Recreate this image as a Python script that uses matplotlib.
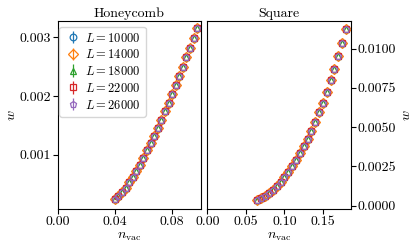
import numpy as np
import matplotlib
matplotlib.use("Agg")
import matplotlib.pyplot as plt

plt.rcParams["font.family"] = "serif"
plt.rcParams["font.serif"] = ["cmr10", "DejaVu Serif"]
plt.rcParams["mathtext.fontset"] = "cm"
plt.rcParams["axes.formatter.use_mathtext"] = True

# system sizes and markers
sizes = [10000, 14000, 18000, 22000, 26000]
markers = ["o", "D", "^", "s", "p"]

# honeycomb lattice: vacancy density vs w (all sizes collapse)
n_honey = [0.0400, 0.0425, 0.0450, 0.0475, 0.0500, 0.0525, 0.0550, 0.0575,
           0.0600, 0.0625, 0.0650, 0.0675, 0.0700, 0.0725, 0.0750, 0.0775,
           0.0800, 0.0825, 0.0850, 0.0875, 0.0900, 0.0925, 0.0950, 0.0975]
w_honey = [0.00025, 0.00030, 0.00037, 0.00044, 0.00054, 0.00063, 0.00073,
           0.00083, 0.00095, 0.00108, 0.00120, 0.00132, 0.00145, 0.00159,
           0.00174, 0.00188, 0.00203, 0.00218, 0.00234, 0.00250, 0.00266,
           0.00282, 0.00298, 0.00315]

# square lattice
n_square = [0.065, 0.070, 0.075, 0.080, 0.085, 0.090, 0.095, 0.100,
            0.105, 0.110, 0.115, 0.120, 0.125, 0.130, 0.135, 0.140,
            0.145, 0.150, 0.155, 0.160, 0.165, 0.170, 0.175, 0.180]
w_square = [0.00036, 0.00049, 0.00062, 0.00079, 0.00100, 0.00124, 0.00151,
            0.00181, 0.00215, 0.00251, 0.00291, 0.00334, 0.00378, 0.00427,
            0.00478, 0.00535, 0.00595, 0.00656, 0.00724, 0.00799, 0.00873,
            0.00952, 0.01036, 0.01125]

FS = 10

fig = plt.figure(figsize=(4.15, 2.49), dpi=100)
ax1 = fig.add_axes([0.139, 0.161, 0.3446, 0.755])
ax2 = fig.add_axes([0.4995, 0.161, 0.3455, 0.755])

for i, (L, m) in enumerate(zip(sizes, markers)):
    col = f"C{i}"
    ax1.errorbar(n_honey, w_honey, yerr=np.zeros(len(w_honey)), fmt=m,
                 color=col, mfc="none", ms=4.8, mew=0.9, elinewidth=0.9,
                 label=f"$L = {L}$")
    ax2.errorbar(n_square, w_square, yerr=np.zeros(len(w_square)), fmt=m,
                 color=col, mfc="none", ms=4.8, mew=0.9, elinewidth=0.9)

ax1.set_xlim(0, 0.1)
ax1.set_ylim(0.000082, 0.003277)
ax1.set_xticks([0.0, 0.04, 0.08])
ax1.set_xticklabels(["0.00", "0.04", "0.08"])
ax1.set_yticks([0.001, 0.002, 0.003])
ax1.set_yticklabels(["0.001", "0.002", "0.003"])
ax1.set_title("Honeycomb", fontsize=FS, pad=3)
ax1.set_xlabel(r"$n_{\rm vac}$", fontsize=FS, labelpad=2)
ax1.set_ylabel(r"$w$", fontsize=FS, labelpad=1)
ax1.legend(loc="upper left", bbox_to_anchor=(0.01, 0.97), fontsize=9,
           handletextpad=0.2, borderpad=0.4, labelspacing=0.3,
           handlelength=1.5, borderaxespad=0.0)

ax2.set_xlim(0, 0.186)
ax2.set_ylim(-0.00021, 0.01176)
ax2.set_xticks([0.0, 0.05, 0.10, 0.15])
ax2.set_xticklabels(["0.00", "0.05", "0.10", "0.15"])
ax2.set_yticks([0.0, 0.0025, 0.005, 0.0075, 0.01])
ax2.set_yticklabels(["0.0000", "0.0025", "0.0050", "0.0075", "0.0100"])
ax2.yaxis.tick_right()
ax2.yaxis.set_label_position("right")
ax2.set_title("Square", fontsize=FS, pad=3)
ax2.set_xlabel(r"$n_{\rm vac}$", fontsize=FS, labelpad=2)
ax2.set_ylabel(r"$w$", fontsize=FS, labelpad=3)

for ax in (ax1, ax2):
    ax.tick_params(labelsize=FS, length=3.5, pad=1.5)

fig.savefig("out.png", dpi=100)
